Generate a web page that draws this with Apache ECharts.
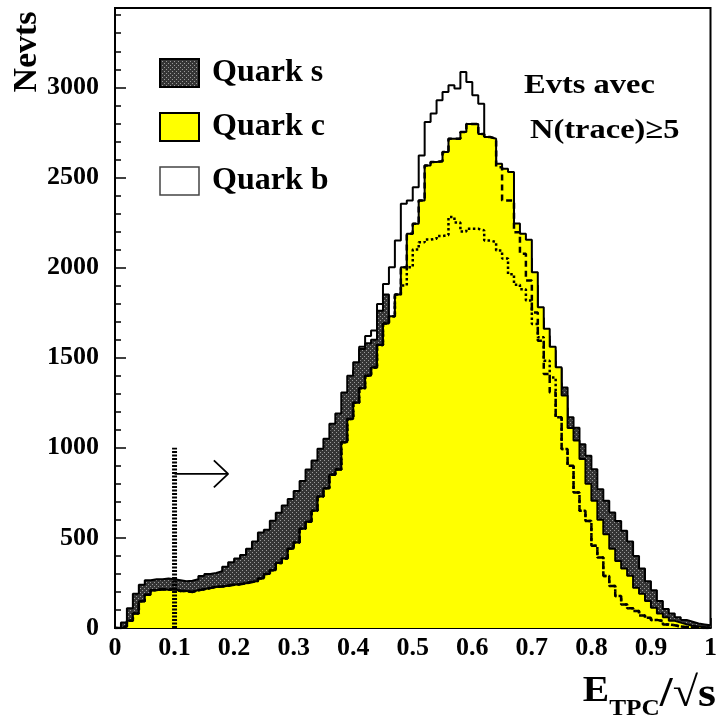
<!DOCTYPE html>
<html>
<head>
<meta charset="utf-8">
<style>
  html, body { margin: 0; padding: 0; background: #fff; }
  #chart { width: 720px; height: 719px; }
</style>
<script src="https://cdn.jsdelivr.net/npm/echarts@6.0.0/dist/echarts.min.js"></script>
</head>
<body>
<div id="chart"></div>
<script>
const FONT = '"Liberation Serif", "Times New Roman", serif';

// 100 bins of width 0.01 on E_TPC/sqrt(s)
const BIN_WIDTH = 0.01;

const QUARK_S = [
  0, 30, 110, 190, 240, 265, 270, 270, 275, 270,
  265, 260, 262, 270, 288, 300, 305, 315, 340, 365,
  385, 405, 440, 480, 530, 545, 595, 640, 680, 716,
  760, 816, 880, 930, 994, 1050, 1133, 1190, 1307, 1400,
  1474, 1548, 1580, 1600, 1760, 1850, 1720, 1800, 1900, 1980,
  2050, 2100, 2150, 2180, 2200, 2210, 2220, 2210, 2200, 2180,
  2160, 2130, 2100, 2060, 2020, 1990, 1950, 1910, 1870, 1820,
  1760, 1700, 1620, 1540, 1440, 1335, 1169, 1111, 1019, 956,
  881, 770, 706, 641, 594, 540, 480, 400, 330, 260,
  210, 150, 105, 80, 60, 45, 35, 25, 20, 15
];

const QUARK_C = [
  0, 10, 40, 80, 148, 185, 210, 215, 212, 215,
  205, 205, 200, 210, 215, 222, 228, 230, 235, 240,
  243, 248, 255, 261, 275, 300, 320, 360, 385, 440,
  475, 550, 590, 650, 730, 775, 850, 880, 1030, 1160,
  1250, 1330, 1400, 1446, 1570, 1690, 1730, 1850, 2002, 2187,
  2243, 2372, 2566, 2585, 2590, 2641, 2715, 2715, 2752, 2796,
  2796, 2741, 2724, 2715, 2576, 2548, 2530, 2245, 2187, 2154,
  1974, 1780, 1660, 1561, 1447, 1290, 1110, 1040, 937, 800,
  706, 600, 520, 440, 372, 330, 290, 224, 190, 150,
  113, 80, 60, 40, 30, 20, 12, 8, 5, 3
];

const QUARK_B = [
  0, 5, 20, 50, 100, 140, 160, 170, 175, 175,
  175, 175, 178, 180, 185, 190, 195, 200, 205, 215,
  225, 235, 245, 255, 270, 290, 315, 345, 380, 420,
  470, 530, 590, 660, 740, 830, 930, 1040, 1160, 1300,
  1430, 1560, 1620, 1650, 1798, 1909, 2002, 2150, 2354, 2372,
  2446, 2622, 2807, 2854, 2928, 2974, 3011, 2993, 3085, 3030,
  2956, 2909, 2700, 2650, 2530, 2500, 2420, 2200, 2100, 2050,
  1900, 1720, 1600, 1480, 1360, 1220, 1050, 960, 850, 720,
  620, 520, 440, 370, 310, 260, 220, 170, 140, 110,
  80, 60, 40, 30, 20, 14, 9, 5, 3, 2
];

const DASHED = [
  0, 10, 40, 80, 148, 185, 210, 215, 212, 215,
  205, 205, 200, 210, 215, 222, 228, 230, 235, 240,
  243, 248, 255, 261, 275, 300, 320, 360, 385, 440,
  475, 550, 590, 650, 730, 775, 850, 880, 1030, 1160,
  1250, 1330, 1400, 1446, 1570, 1690, 1730, 1850, 2002, 2187,
  2243, 2372, 2566, 2585, 2590, 2641, 2715, 2715, 2752, 2796,
  2796, 2741, 2724, 2715, 2557, 2372, 2372, 2196, 2076, 1928,
  1750, 1594, 1409, 1307, 1169, 993, 900, 752, 650, 594,
  456, 391, 289, 233, 178, 131, 110, 94, 70, 57,
  45, 39, 20, 15, 8, 5, 3, 2, 0, 0
];

const DOTTED = [
  0, 10, 40, 80, 148, 185, 210, 215, 212, 215,
  205, 205, 200, 210, 215, 222, 228, 230, 235, 240,
  243, 248, 255, 261, 275, 300, 320, 360, 385, 440,
  475, 550, 590, 650, 730, 775, 850, 880, 1030, 1160,
  1250, 1330, 1400, 1446, 1570, 1690, 1730, 1850, 1900, 2002,
  2100, 2140, 2155, 2160, 2175, 2180, 2280, 2250, 2200, 2215,
  2215, 2206, 2150, 2141, 2094, 2050, 1963, 1905, 1880, 1817,
  1687, 1613, 1483, 1390, 1169, 993, 900, 752, 650, 594,
  456, 391, 289, 233, 178, 131, 110, 94, 70, 57,
  45, 39, 20, 15, 8, 5, 3, 2, 0, 0
];

const LEGEND_NAMES = [ 'Quark s', 'Quark c', 'Quark b' ];
const NOTE_LINES = [ 'Evts avec', 'N(trace)≥5' ];

// cut marker and arrow
const CUT_X = 0.1;
const CUT_TOP = 1000;
const ARROW_Y = 855;
const ARROW_END = 0.19;
const ARROW_HEAD_X = 0.166;
const ARROW_HEAD_DY = 75;

const Y_MAX = 3440;

function stipple() {
  let canvas = document.createElement('canvas');
  canvas.width = 4;
  canvas.height = 4;
  let ctx = canvas.getContext('2d');
  ctx.fillStyle = '#353535';
  ctx.fillRect(0, 0, 4, 4);
  ctx.fillStyle = '#9a9a9a';
  ctx.fillRect(0, 0, 1, 1);
  ctx.fillRect(2, 2, 1, 1);
  return canvas;
}

function toSteps(values) {
  let points = values.map((v, i) => [ +(i * BIN_WIDTH).toFixed(2), v ]);
  points.push([ 1, values[values.length - 1] ]);
  return points;
}

const GRAY = { image: stipple(), repeat: 'repeat' };
const YELLOW = '#ffff00';

// each histogram gets its own z so its fill hides the lines drawn before it
function histo(name, values, fill, z) {
  return {
    name: name,
    type: 'line',
    step: 'end',
    z: z,
    silent: true,
    symbol: 'none',
    data: toSteps(values),
    itemStyle: { color: '#000' },
    lineStyle: { color: '#000', width: 2 },
    areaStyle: { color: fill, opacity: 1 }
  };
}

function outline(values, dash, width, z) {
  return {
    type: 'line',
    step: 'end',
    z: z,
    silent: true,
    symbol: 'none',
    data: toSteps(values),
    lineStyle: { color: '#000', width: width, type: dash }
  };
}

function marker(points, width, dash) {
  return {
    type: 'line',
    z: 9,
    silent: true,
    symbol: 'none',
    data: points,
    lineStyle: { color: '#000', width: width, type: dash }
  };
}

const labelStyle = {
  color: '#000',
  fontFamily: FONT,
  fontWeight: 'bold',
  fontSize: 26
};

let chart = echarts.init(document.getElementById('chart'));

chart.setOption({
  animation: false,
  backgroundColor: '#fff',
  grid: {
    left: 115,
    top: 8,
    width: 600,
    height: 620,
    show: true,
    borderColor: '#000',
    borderWidth: 2
  },
  legend: {
    orient: 'vertical',
    left: 154,
    top: 52,
    itemWidth: 39,
    itemHeight: 28,
    itemGap: 22,
    selectedMode: false,
    textStyle: {
      color: '#000',
      fontFamily: FONT,
      fontWeight: 'bold',
      fontSize: 32,
      lineHeight: 28,
      padding: [ 0, 0, 0, 8 ]
    },
    data: [
      { name: LEGEND_NAMES[0], icon: 'rect', itemStyle: { color: GRAY, borderColor: '#000', borderWidth: 2 } },
      { name: LEGEND_NAMES[1], icon: 'rect', itemStyle: { color: YELLOW, borderColor: '#000', borderWidth: 2 } },
      { name: LEGEND_NAMES[2], icon: 'rect', itemStyle: { color: '#fff', borderColor: '#444', borderWidth: 1.5 } }
    ]
  },
  xAxis: {
    type: 'value',
    min: 0,
    max: 1,
    interval: 0.1,
    axisLine: { lineStyle: { color: '#000', width: 2 } },
    axisTick: { inside: true, length: 10, lineStyle: { color: '#000', width: 1.5 } },
    minorTick: { show: true, splitNumber: 5, length: 5, lineStyle: { color: '#000', width: 1.5 } },
    axisLabel: Object.assign({ margin: 7 }, labelStyle),
    splitLine: { show: false }
  },
  yAxis: {
    type: 'value',
    min: 0,
    max: Y_MAX,
    interval: 500,
    axisLine: { show: true, lineStyle: { color: '#000', width: 2 } },
    axisTick: { inside: true, length: 11, lineStyle: { color: '#000', width: 1.5 } },
    minorTick: { show: true, splitNumber: 5, length: 6, lineStyle: { color: '#000', width: 1.5 } },
    axisLabel: Object.assign({ margin: 16, showMaxLabel: false, formatter: v => String(v) }, labelStyle),
    splitLine: { show: false }
  },
  graphic: [
    {
      type: 'text',
      x: 27,
      y: 52,
      rotation: Math.PI / 2,
      style: {
        text: 'Nevts',
        font: `bold 34px ${FONT}`,
        fill: '#000',
        align: 'center',
        verticalAlign: 'middle'
      }
    },
    {
      type: 'text',
      x: 524,
      y: 72,
      scaleX: 1.16,
      style: { text: NOTE_LINES[0], font: `bold 28px ${FONT}`, fill: '#000' }
    },
    {
      type: 'text',
      x: 530,
      y: 117,
      scaleX: 1.16,
      style: { text: NOTE_LINES[1], font: `bold 28px ${FONT}`, fill: '#000' }
    },
    {
      type: 'text',
      x: 716,
      y: 674,
      scaleX: 1.1,
      style: {
        text: '{e|E}{sub|TPC}{n|/√s}',
        fill: '#000',
        align: 'right',
        rich: {
          e: { fontFamily: FONT, fontWeight: 'bold', fontSize: 36, lineHeight: 52, verticalAlign: 'top' },
          sub: { fontFamily: FONT, fontWeight: 'bold', fontSize: 23, lineHeight: 30, verticalAlign: 'bottom', padding: [ 0, 0, 5, 0 ] },
          n: { fontFamily: FONT, fontWeight: 'bold', fontSize: 42, lineHeight: 52, verticalAlign: 'top' }
        }
      }
    }
  ],
  series: [
    histo(LEGEND_NAMES[2], QUARK_B, '#fff', 2),
    histo(LEGEND_NAMES[0], QUARK_S, GRAY, 3),
    histo(LEGEND_NAMES[1], QUARK_C, YELLOW, 4),
    outline(DASHED, [ 6, 4 ], 2.5, 5),
    outline(DOTTED, [ 2.5, 2.5 ], 2.5, 6),
    marker([ [ CUT_X, 0 ], [ CUT_X, CUT_TOP ] ], 5, [ 2, 1.5 ]),
    marker([ [ CUT_X, ARROW_Y ], [ ARROW_END, ARROW_Y ] ], 1.8, 'solid'),
    marker([
      [ ARROW_HEAD_X, ARROW_Y + ARROW_HEAD_DY ],
      [ ARROW_END, ARROW_Y ],
      [ ARROW_HEAD_X, ARROW_Y - ARROW_HEAD_DY ]
    ], 1.8, 'solid')
  ]
});
</script>
</body>
</html>
